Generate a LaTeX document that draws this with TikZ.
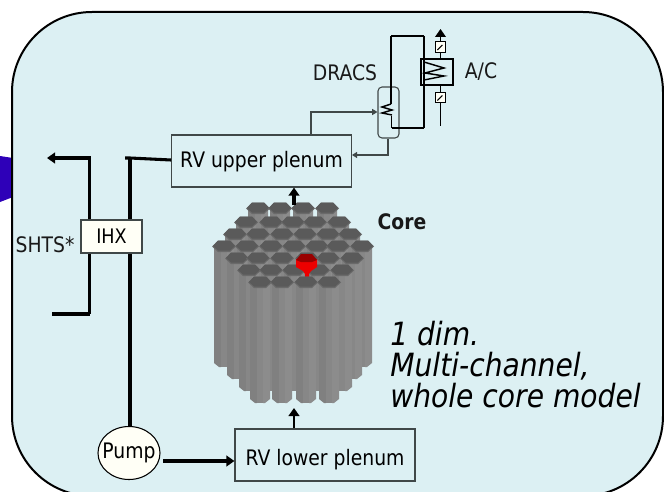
\documentclass[tikz,border=0pt]{standalone}
\usepackage{fontspec}
\setmainfont[FakeStretch=0.88]{DejaVu Sans}
\usetikzlibrary{arrows.meta,shapes.geometric}
\def\px{0.75pt}
\definecolor{panel}{HTML}{DCF0F3}
\definecolor{cream}{HTML}{FFFFF6}
\definecolor{edgegrey}{HTML}{404848}
\definecolor{hexdark}{HTML}{5A5A5A}
\definecolor{hexrim}{HTML}{6A6A6A}
\definecolor{rodA}{HTML}{808080}
\definecolor{rodB}{HTML}{878787}
\definecolor{rodC}{HTML}{8C8C8C}
\tikzset{
  x=0.75pt,y=-0.75pt,
  box/.style={draw=edgegrey,line width=0.9pt,inner sep=0pt,align=center},
  label/.style={inner sep=0pt,text=black!90,font=\fontsize{16}{19}\selectfont},
  pipe/.style={line width=2.3pt,draw=black},
  thin pipe/.style={line width=1.0pt,draw=edgegrey},
  loopline/.style={line width=1.1pt,draw=black},
  tipbig/.style={-{Triangle[length=6pt,width=8pt]}},
  tipsmall/.style={-{Triangle[length=4pt,width=4.5pt]}},
  valve/.style={draw=black,line width=0.9pt,fill=cream,minimum width=7.5pt,minimum height=8pt,inner sep=0pt},
}
\newcommand{\rodat}[2]{%
  \fill[rodA] ({#1-10},#2) -- ({#1-10},{#2+117}) -- ({#1-5},{#2+121}) -- ({#1-3},{#2+121}) -- ({#1-3},#2) -- cycle;
  \fill[rodB] ({#1-3.4},#2) rectangle ({#1+3.4},{#2+121});
  \fill[rodC] ({#1+3},#2) -- ({#1+3},{#2+121}) -- ({#1+5},{#2+121}) -- ({#1+10},{#2+117}) -- ({#1+10},#2) -- cycle;
  \hexat{#1}{#2}}
\newcommand{\hexat}[2]{%
  \fill[hexrim] ({#1-12},{#2+0.5}) -- ({#1-6},{#2-5.5}) -- ({#1+6},{#2-5.5}) -- ({#1+12},{#2+0.5}) -- ({#1+6},{#2+6}) -- ({#1-6},{#2+6}) -- cycle;
  \fill[hexdark] ({#1-11},{#2}) -- ({#1-6},{#2-5.5}) -- ({#1+6},{#2-5.5}) -- ({#1+11},{#2}) -- ({#1+6},{#2+4.5}) -- ({#1-6},{#2+4.5}) -- cycle;}
\begin{document}
\begin{tikzpicture}
\useasboundingbox (0,0) rectangle (664,492);
\begin{scope}
\clip (0,0) rectangle (664,492);
\fill[white] (0,0) rectangle (664,492);
\fill[fill=blue!80!red!90!black] (0,156) -- (13,158) -- (13,197) -- (0,202) -- cycle;
\draw[line width=1.5pt,fill=panel,rounded corners=60pt] (12,12) rectangle (663,496);
\end{scope}

% core rods, back to front
\foreach \xx in {258,280,303,327} {\rodat{\xx}{208}}
\foreach \xx in {246,271,293,315,339} {\rodat{\xx}{222}}
\foreach \xx in {235,258,282,305,328,350} {\rodat{\xx}{234}}
\foreach \xx in {224,247,271,294,317,338,362} {\rodat{\xx}{246}}
\foreach \xx in {237,258,282,328,352} {\rodat{\xx}{258}}
\rodat{307}{258}
\foreach \xx in {249,271,294,318,342} {\rodat{\xx}{270}}
% red rod
\fill[red!93!black] (296,259) -- (296,267) -- (303,271) -- (305,274) -- (305,279) -- (309,279) -- (309,274) -- (311,271) -- (317,267) -- (317,259) -- cycle;
\fill[red!60!black] (296,260) -- (301,254) -- (312,254) -- (317,260) -- (312,262) -- (301,262) -- cycle;
\foreach \xx in {260,282,306,329} {\rodat{\xx}{282}}

% plena and components
\node[box,minimum width=179.5*\px,minimum height=52*\px,label,draw=edgegrey,text=black,text height=9pt,text depth=0pt] (upper) at (261.5,161) {RV upper plenum};
\node[box,minimum width=180*\px,minimum height=52*\px,label,draw=edgegrey,text=black,text height=15.5pt,text depth=0pt] (lower) at (325,455) {RV lower plenum};
\node[box,fill=cream,minimum width=61*\px,minimum height=33*\px,font=\fontsize{15}{18}\selectfont] (ihx) at (111.5,236.5) {IHX};
\node[draw=black,line width=0.8pt,fill=cream,ellipse,minimum width=62*\px,minimum height=53*\px,inner sep=0pt] (pump) at (129,453) {};
\node[label,text=black] (lpump) at (pump.center) {Pump};
\node[draw=edgegrey,line width=0.8pt,rounded corners=3pt,minimum width=21*\px,minimum height=51*\px,inner sep=0pt] (dracs) at (388.5,112.5) {};
\node[draw=black,line width=1.3pt,minimum width=32*\px,minimum height=26*\px,inner sep=0pt] (ac) at (437,72) {};
\node[valve] (vtop) at (440.5,47) {};
\node[valve] (vbot) at (440.5,97.5) {};

% coordinates
\coordinate (shtsT) at (47,158);
\coordinate (shtsTc) at (89.5,158);
\coordinate (shtsB) at (52,314);
\coordinate (shtsBc) at (89.5,314);
\coordinate (hotstub) at (125,158);
\coordinate (hotc) at (130,158);
\coordinate (cupin) at (294,205);
\coordinate (cbot) at (294,408);
\coordinate (acTop) at (440.5,29);
\coordinate (acBot) at (440.5,126);

% primary and secondary pipes
\draw[pipe] (shtsBc) -- (ihx.south -| shtsBc);
\draw[pipe,tipbig] (ihx.north -| shtsTc) -- (shtsTc) -- (shtsT);
\draw[pipe,line width=3pt] (shtsBc) -- (shtsB);
\draw[pipe] (pump.north -| hotc) -- (ihx.south -| hotc);
\draw[pipe] (ihx.north -| hotc) -- (hotc);
\draw[pipe] (hotstub) -- (hotc) -- (upper.west |- 0,160);
\draw[pipe,line width=2.6pt,tipbig] (163,461) -- (lower.west |- 0,461);
\draw[pipe,line width=1.8pt,tipbig] (lower.north -| cbot) -- (cbot);
\draw[pipe,line width=2.3pt,tipbig] (cupin) -- (upper.south -| cupin);

% DRACS connections
\draw[thin pipe,tipsmall] (upper.north -| 311,0) -- (311,112) -- (dracs.west |- 0,112);
\draw[thin pipe,tipsmall] (dracs.south -| 388,0) -- (388,155) -- (upper.east |- 0,155);

% DRACS loop
\draw[loopline] (391,104) -- (391,36);
\draw[loopline,line width=1.8pt] (391,36) -- (424,36);
\draw[loopline] (424,36) -- (424,128);
\draw[loopline,line width=1.8pt] (424,128) -- (391.5,128);
\draw[loopline] (391.5,128) -- (391.5,116);
\draw[loopline] (391,104) -- (382,107) -- (392,110) -- (382,113) -- (392,115);
\draw[loopline] (424,62) -- (444,68) -- (425,73) -- (444,76) -- (424,80);

% air cooler
\draw[loopline,tipbig] (vtop.north) -- (acTop);
\draw[loopline] (vtop.south) -- (ac.north -| vtop);
\draw[loopline] (ac.south -| vbot) -- (vbot.north);
\draw[loopline] (vbot.south) -- (acBot);
\draw[line width=0.8pt] (vtop.south west) ++(2.5,-3) -- ++(5,-5);
\draw[line width=0.8pt] (vbot.south west) ++(2.5,-3) -- ++(5,-5);

% labels
\node[label,anchor=center] (ldracs) at (345,73) {DRACS};
\node[label,anchor=center] (lac) at (481,72) {A/C};
\node[label,anchor=center,font=\fontsize{16}{19}\selectfont\bfseries] (lcore) at (402,222) {Core};
\node[label,anchor=center] (lshts) at (45,245) {SHTS*};
\node[inner sep=0pt,anchor=west,align=left,text=black,font=\fontsize{24}{23.25}\selectfont\itshape] (lnote) at (390,365) {1 dim.\\Multi-channel,\\whole core model};
\end{tikzpicture}
\end{document}
